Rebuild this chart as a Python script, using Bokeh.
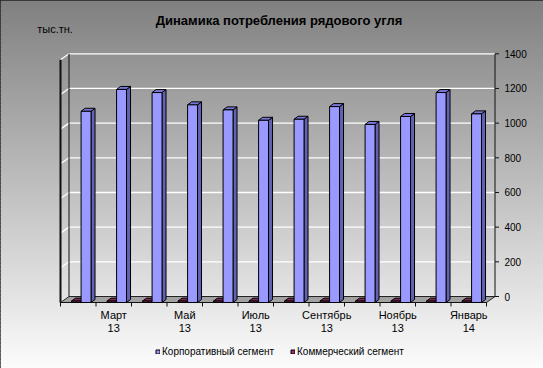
import numpy as np
from bokeh.plotting import figure
from bokeh.models import Label, Legend, LegendItem
from bokeh.core.properties import value
from bokeh.embed import file_html
from bokeh.resources import INLINE

# ---------------- data ----------------
months = ["Февраль\n13", "Март\n13", "Апрель\n13", "Май\n13", "Июнь\n13", "Июль\n13",
          "Август\n13", "Сентябрь\n13", "Октябрь\n13", "Ноябрь\n13", "Декабрь\n13", "Январь\n14"]
corporate = [1103, 1229, 1211, 1140, 1111, 1051, 1057, 1130, 1027, 1073, 1211, 1088]
commercial = [8, 8, 8, 8, 8, 8, 8, 8, 8, 8, 8, 8]
y_ticks = [0, 200, 400, 600, 800, 1000, 1200, 1400]
series_names = ["Корпоративный сегмент", "Коммерческий сегмент"]
title_text = "Динамика потребления рядового угля"
unit_text = "тыс.тн."

# ---------------- layout ----------------
W, H = 543, 368
CAT_PX = 35.5        # pixels per category
VAL_PX = 0.17336     # pixels per value unit
ORIGIN_X = 60        # canvas px of first category's left edge
ORIGIN_Y = 302       # canvas px (from top) of value 0 on the front plane

def px_x(d):
    return d / CAT_PX

def px_y(d):
    return d / VAL_PX

x_start = -ORIGIN_X / CAT_PX
x_end = x_start + W / CAT_PX
y_end = ORIGIN_Y / VAL_PX
y_start = y_end - H / VAL_PX

WDX, WDY = px_x(8.5), px_y(6)   # back wall depth offset
BDX, BDY = px_x(4), px_y(3)     # bar depth offset
n = len(months)
y_max = y_ticks[-1]
FONT = "Liberation Sans"

p = figure(width=W, height=H, x_range=(x_start, x_end), y_range=(y_start, y_end),
           x_axis_type=None, y_axis_type=None, min_border=0,
           toolbar_location=None, output_backend="svg",
           outline_line_color="#202020", outline_line_width=2,
           background_fill_color="#c0c0c0", border_fill_color="#c0c0c0")

# background gradient (gray at top to near white at bottom)
band = 4
tops, bots, cols = [], [], []
for fy in range(0, H, band):
    ry = fy + band / 2
    c = int(round(128 + (ry / 368.0) * (252 - 128)))
    c = max(0, min(255, c))
    tops.append(y_end - px_y(fy))
    bots.append(y_end - px_y(fy + band + 1))
    cols.append("#%02x%02x%02x" % (c, c, c))
p.quad(left=x_start, right=x_end, top=tops, bottom=bots, fill_color=cols, line_color=None)

# wall gridlines (white) on back wall and left side wall
p.segment(x0=[WDX] * len(y_ticks), y0=[t + WDY for t in y_ticks],
          x1=[n + WDX] * len(y_ticks), y1=[t + WDY for t in y_ticks],
          line_color="white", line_width=1.3)
p.segment(x0=[0] * len(y_ticks), y0=y_ticks,
          x1=[WDX] * len(y_ticks), y1=[t + WDY for t in y_ticks],
          line_color="white", line_width=1.3)

# left wall edges
p.segment(x0=[0], y0=[0], x1=[0], y1=[y_max], line_color="#111111", line_width=2)
p.segment(x0=[WDX], y0=[WDY], x1=[WDX], y1=[y_max + WDY], line_color="#111111", line_width=1)

# floor
p.patch(x=[0, n, n + WDX, WDX], y=[0, 0, WDY, WDY], fill_color="#a2a2a2",
        line_color="#222222", line_width=1)

# right value axis
ax_x = n + WDX
p.segment(x0=[ax_x], y0=[WDY], x1=[ax_x], y1=[y_max + WDY], line_color="#111111", line_width=1)
p.segment(x0=[ax_x] * len(y_ticks), y0=[t + WDY for t in y_ticks],
          x1=[ax_x + px_x(4)] * len(y_ticks), y1=[t + WDY for t in y_ticks],
          line_color="#111111", line_width=1)
p.text(x=[ax_x + px_x(9.5)] * len(y_ticks), y=[t + WDY for t in y_ticks],
       text=[str(t) for t in y_ticks], text_align="left", text_baseline="middle",
       text_font=value(FONT), text_font_size="10px", text_color="#000000")

# category axis line & ticks
cats = list(range(n + 1))
p.segment(x0=[0], y0=[0], x1=[n], y1=[0], line_color="#111111", line_width=1.2)
p.segment(x0=cats, y0=[0] * len(cats), x1=cats, y1=[-px_y(4)] * len(cats),
          line_color="#111111", line_width=1)
lab_idx = [i for i in range(n) if i % 2 == 1]
p.text(x=[i + 0.5 for i in lab_idx], y=[-px_y(6)] * len(lab_idx),
       text=[months[i] for i in lab_idx], text_align="center", text_baseline="top",
       text_font=value(FONT), text_font_size="11px", text_line_height=1.1,
       text_color="#000000")


def bar3d(lefts, rights, vals, front, top, side):
    sx = [[r, r + BDX, r + BDX, r] for r in rights]
    sy = [[0, BDY, v + BDY, v] for v in vals]
    p.patches(xs=sx, ys=sy, fill_color=side, line_color="#000000", line_width=1)
    tx = [[l, r, r + BDX, l + BDX] for l, r in zip(lefts, rights)]
    ty = [[v, v, v + BDY, v + BDY] for v in vals]
    p.patches(xs=tx, ys=ty, fill_color=top, line_color="#000000", line_width=1)
    return p.quad(left=lefts, right=rights, bottom=0, top=vals, fill_color=front,
                  line_color="#000000", line_width=1)


idx = np.arange(n)
red = bar3d(list(idx + 0.31), list(idx + 0.57), commercial, "#993366", "#7a2952", "#5c1f3d")
blue = bar3d(list(idx + 0.58), list(idx + 0.86), corporate, "#9999ff", "#7878d8", "#6262b2")

# legends
for rend, name, lx in [(blue, series_names[0], 155), (red, series_names[1], 290)]:
    leg = Legend(items=[LegendItem(label=name, renderers=[rend])], location=(lx, 11),
                 orientation="horizontal", glyph_width=5, glyph_height=5,
                 label_standoff=2, padding=0, margin=0, spacing=0, label_height=10,
                 background_fill_alpha=0, border_line_alpha=0,
                 label_text_font=FONT, label_text_font_size="10px",
                 label_text_color="#000000")
    p.add_layout(leg)

# titles
p.add_layout(Label(x=278.5, y=H - 19.5, x_units="screen", y_units="screen", text=title_text,
                   text_align="center", text_baseline="middle", text_font=FONT,
                   text_font_size="13px", text_font_style="bold", text_color="#000000"))
p.add_layout(Label(x=36.7, y=H - 28.5, x_units="screen", y_units="screen", text=unit_text,
                   text_align="left", text_baseline="middle", text_font=FONT,
                   text_font_size="11px", text_color="#000000"))

open("out.html", "w").write(file_html(p, INLINE))
